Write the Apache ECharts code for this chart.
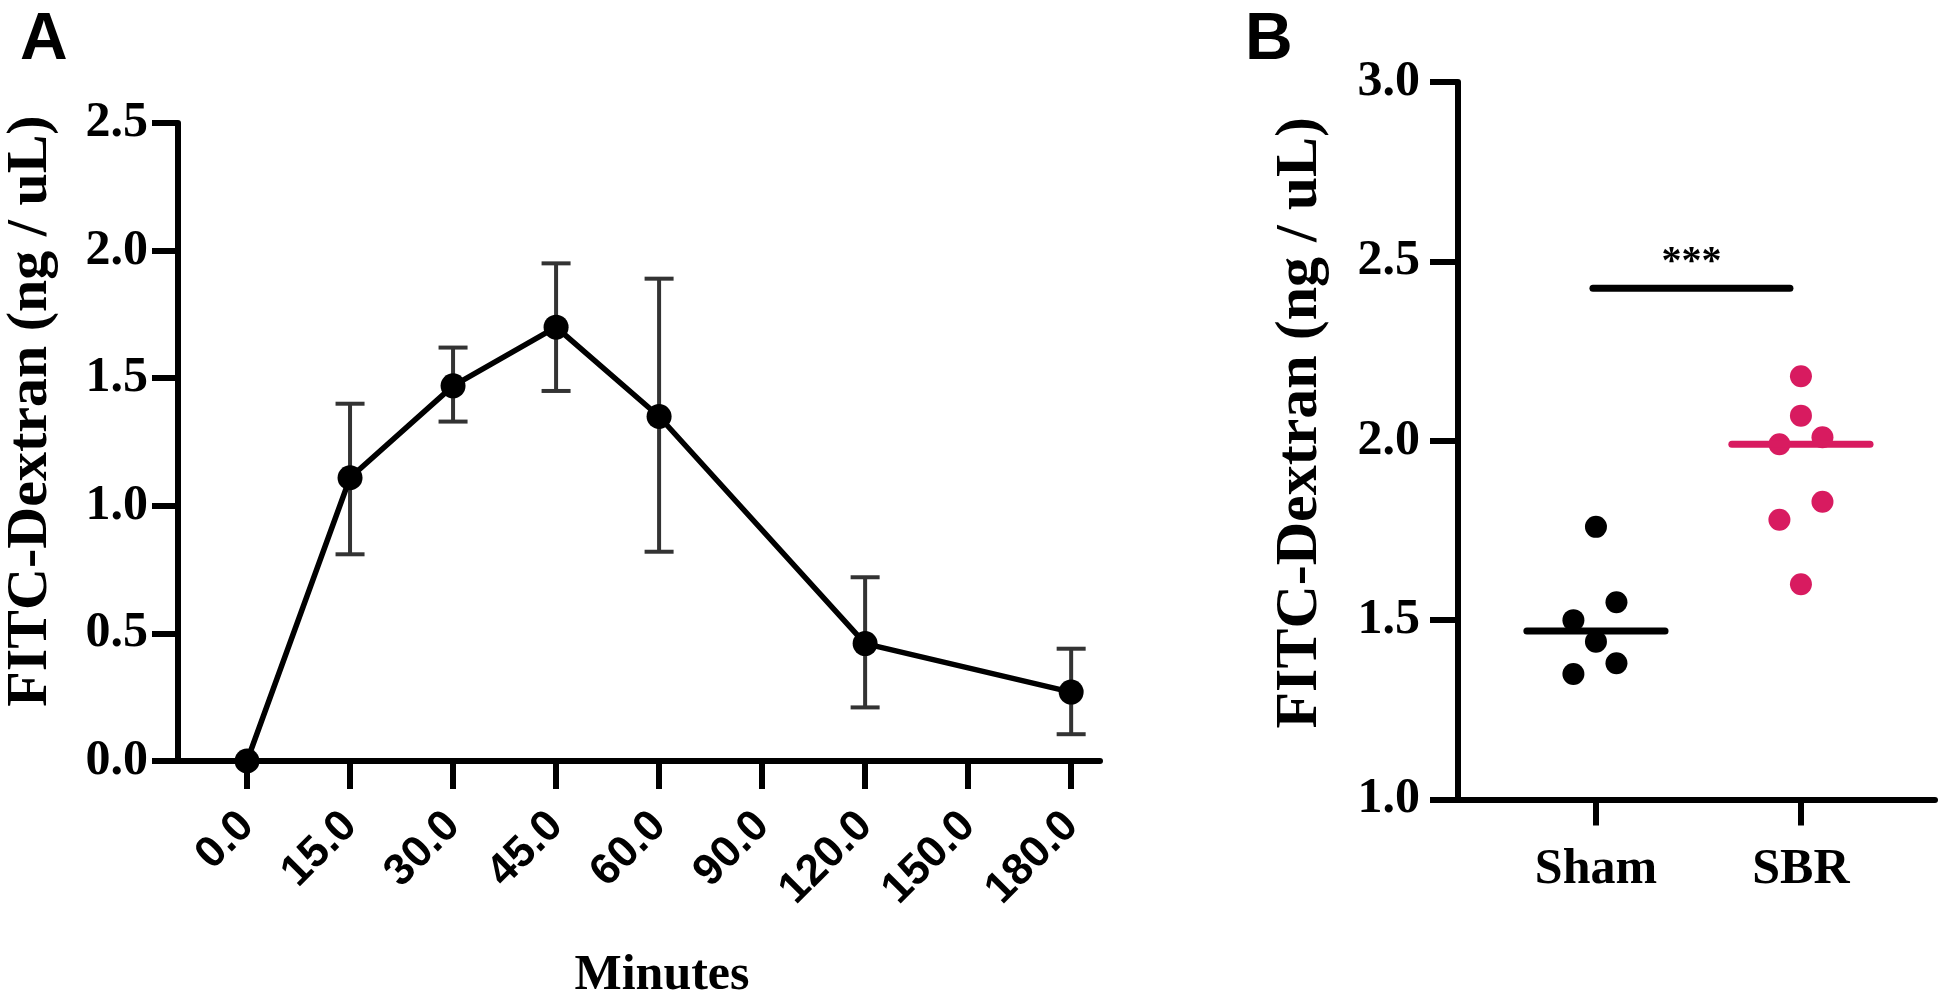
<!DOCTYPE html>
<html>
<head>
<meta charset="utf-8">
<script src="https://cdn.jsdelivr.net/npm/echarts@6/dist/echarts.min.js"></script>
<style>
html,body{margin:0;padding:0;background:#fff;}
#chart{width:1950px;height:1006px;}
</style>
</head>
<body>
<div id="chart"></div>
<script>
// ---- Panel A data ----
const categories = ['0.0','15.0','30.0','45.0','60.0','90.0','120.0','150.0','180.0'];
const timeIndex  = [0, 1, 2, 3, 4, 6, 8];
const meanValues = [0.00, 1.11, 1.47, 1.70, 1.35, 0.46, 0.27];
const upperValues = [0.00, 1.40, 1.62, 1.95, 1.89, 0.72, 0.44];
const lowerValues = [0.00, 0.81, 1.33, 1.45, 0.82, 0.21, 0.105];

// ---- Panel B data ----
const groups = ['Sham', 'SBR'];
const shamValues = [1.76, 1.55, 1.50, 1.44, 1.38, 1.35];
const shamJitter = [0, 0.10, -0.11, 0, 0.10, -0.11];
const sbrValues  = [2.18, 2.07, 2.01, 1.99, 1.83, 1.78, 1.60];
const sbrJitter  = [0, 0, 0.105, -0.105, 0.105, -0.105, 0];
const medians = [1.47, 1.99];
const sigLevel = 2.425;
const sigText = '***';

const PINK = '#d81b60';
const SERIF = '"Liberation Serif", "Times New Roman", serif';
const SANS = '"Liberation Sans", Arial, sans-serif';

const lineData = timeIndex.map((t, i) => [t, meanValues[i]]);
const errData = timeIndex.map((t, i) => [t, lowerValues[i], upperValues[i]]).filter(d => d[2] > d[1]);
const shamData = shamValues.map((v, i) => [0 + shamJitter[i], v]);
const sbrData = sbrValues.map((v, i) => [1 + sbrJitter[i], v]);
const medianData = medians.map((m, i) => [i, m]);

const axisLineStyle = { color: '#000', width: 6 };
const valueLabel = {
  color: '#000', fontFamily: SERIF, fontWeight: 'bold', fontSize: 50,
  formatter: v => v.toFixed(1)
};

const chart = echarts.init(document.getElementById('chart'), null, { renderer: 'canvas' });
chart.setOption({
  animation: false,
  backgroundColor: '#fff',
  grid: [
    { left: 178, top: 123, width: 922, height: 640 },
    { left: 1458, top: 82, width: 477, height: 717.5 }
  ],
  xAxis: [
    {
      gridIndex: 0, type: 'value', min: -0.67, max: 8.28,
      axisLine: { show: true, onZero: false, lineStyle: axisLineStyle },
      axisTick: { show: true, length: 28, customValues: categories.map((c, i) => i), lineStyle: axisLineStyle },
      axisLabel: {
        customValues: categories.map((c, i) => i),
        formatter: v => categories[Math.round(v)],
        rotate: 45, margin: 58, color: '#000', fontFamily: SANS, fontWeight: 'bold', fontSize: 44
      },
      splitLine: { show: false },
      name: 'Minutes', nameLocation: 'middle', nameGap: 190,
      nameTextStyle: { color: '#000', fontFamily: SERIF, fontWeight: 'bold', fontSize: 50, padding: [0, 0, 0, 46] }
    },
    {
      gridIndex: 1, type: 'value', min: -0.673, max: 1.654,
      axisLine: { show: true, onZero: false, lineStyle: axisLineStyle },
      axisTick: { show: true, length: 26, customValues: [0, 1], lineStyle: axisLineStyle },
      axisLabel: {
        customValues: [0, 1],
        formatter: v => groups[Math.round(v)],
        margin: 46, color: '#000', fontFamily: SERIF, fontWeight: 'bold', fontSize: 50
      },
      splitLine: { show: false }
    }
  ],
  yAxis: [
    {
      gridIndex: 0, type: 'value', min: 0, max: 2.5, interval: 0.5,
      axisLine: { show: true, onZero: false, lineStyle: axisLineStyle },
      axisTick: { show: true, length: 26, lineStyle: axisLineStyle },
      axisLabel: Object.assign({ margin: 30 }, valueLabel),
      splitLine: { show: false },
      name: 'FITC-Dextran (ng / uL)', nameLocation: 'middle', nameRotate: 90, nameGap: 118,
      nameTextStyle: { color: '#000', fontFamily: SERIF, fontWeight: 'bold', fontSize: 58, padding: [0, 0, 0, 62] }
    },
    {
      gridIndex: 1, type: 'value', min: 1, max: 3, interval: 0.5,
      axisLine: { show: true, onZero: false, lineStyle: axisLineStyle },
      axisTick: { show: true, length: 28, lineStyle: axisLineStyle },
      axisLabel: Object.assign({ margin: 38 }, valueLabel),
      splitLine: { show: false },
      name: 'FITC-Dextran (ng / uL)', nameLocation: 'middle', nameRotate: 90, nameGap: 128,
      nameTextStyle: { color: '#000', fontFamily: SERIF, fontWeight: 'bold', fontSize: 60, padding: [0, 0, 0, 36] }
    }
  ],
  graphic: [
    { type: 'text', left: 20, top: 8, style: { text: 'A', fill: '#000', font: 'bold 66px ' + SANS } },
    { type: 'text', left: 1245, top: 8, style: { text: 'B', fill: '#000', font: 'bold 66px ' + SANS } }
  ],
  series: [
    {
      type: 'custom', xAxisIndex: 0, yAxisIndex: 0, z: 2,
      data: errData,
      renderItem: (params, api) => {
        const x = api.value(0);
        const lo = api.coord([x, api.value(1)]);
        const hi = api.coord([x, api.value(2)]);
        const hw = 14.5;
        const st = { stroke: '#333', lineWidth: 4 };
        return {
          type: 'group', children: [
            { type: 'line', shape: { x1: lo[0], y1: lo[1], x2: hi[0], y2: hi[1] }, style: st },
            { type: 'line', shape: { x1: hi[0] - hw, y1: hi[1], x2: hi[0] + hw, y2: hi[1] }, style: st },
            { type: 'line', shape: { x1: lo[0] - hw, y1: lo[1], x2: lo[0] + hw, y2: lo[1] }, style: st }
          ]
        };
      }
    },
    {
      type: 'line', xAxisIndex: 0, yAxisIndex: 0, z: 3,
      data: lineData,
      symbol: 'circle', symbolSize: 25,
      lineStyle: { color: '#000', width: 5.5 },
      itemStyle: { color: '#000', opacity: 1 }
    },
    {
      type: 'scatter', xAxisIndex: 1, yAxisIndex: 1, z: 3,
      data: shamData, symbol: 'circle', symbolSize: 22,
      itemStyle: { color: '#000', opacity: 1 }
    },
    {
      type: 'scatter', xAxisIndex: 1, yAxisIndex: 1, z: 3,
      data: sbrData, symbol: 'circle', symbolSize: 22,
      itemStyle: { color: PINK, opacity: 1 }
    },
    {
      type: 'custom', xAxisIndex: 1, yAxisIndex: 1, z: 4,
      data: medianData,
      renderItem: (params, api) => {
        const x = api.value(0), m = api.value(1);
        const a = api.coord([x - 0.337, m]);
        const b = api.coord([x + 0.337, m]);
        return {
          type: 'line', shape: { x1: a[0], y1: a[1], x2: b[0], y2: b[1] },
          style: { stroke: params.dataIndex === 0 ? '#000' : PINK, lineWidth: 7, lineCap: 'round' }
        };
      }
    },
    {
      type: 'custom', xAxisIndex: 1, yAxisIndex: 1, z: 4,
      data: [[0, 1, sigLevel]],
      renderItem: (params, api) => {
        const y = api.value(2);
        const a = api.coord([api.value(0), y]);
        const b = api.coord([api.value(1), y]);
        const x1 = a[0] - 3, x2 = b[0] - 11;
        return {
          type: 'group', children: [
            { type: 'line', shape: { x1: x1, y1: a[1], x2: x2, y2: b[1] },
              style: { stroke: '#000', lineWidth: 7, lineCap: 'round' } },
            { type: 'text', x: (x1 + x2) / 2, y: a[1] - 26,
              style: { text: sigText, fill: '#000', font: 'bold 40px ' + SERIF,
                       align: 'center', verticalAlign: 'middle' } }
          ]
        };
      }
    }
  ]
});
</script>
</body>
</html>
